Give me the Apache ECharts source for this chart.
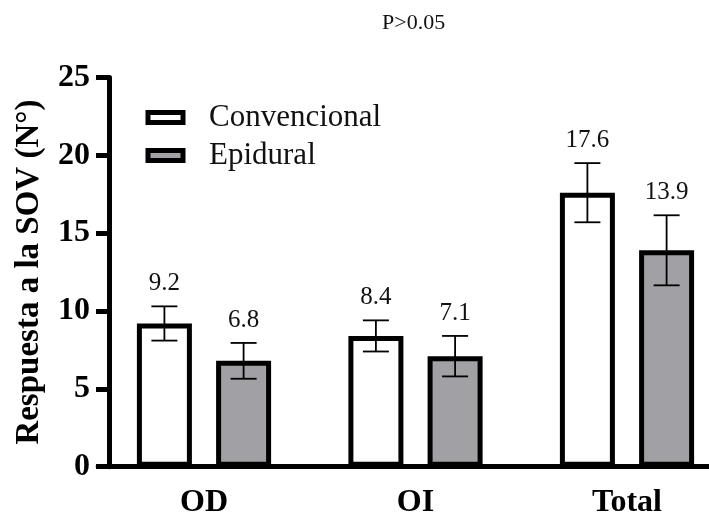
<!DOCTYPE html>
<html>
<head>
<meta charset="utf-8">
<script src="https://cdn.jsdelivr.net/npm/echarts@6/dist/echarts.min.js"></script>
<style>
  html, body { margin: 0; padding: 0; background: #fff; }
  #chart { width: 709px; height: 520px; }
</style>
</head>
<body>
<div id="chart"></div>
<script>
const categories = ['OD', 'OI', 'Total']
const convMean = [9.2, 8.4, 17.6]
const convSD = [1.1, 1.0, 1.9]
const epiMean = [6.8, 7.1, 13.9]
const epiSD = [1.15, 1.3, 2.25]
const yTicks = [0, 5, 10, 15, 20, 25]

const serif = "'Liberation Serif', 'Times New Roman', serif"
const barW = 55
const barGap = 0.44
// half distance between the two bar centres in a category
const halfShift = (barW + barW * barGap) / 2

let errData = []
categories.forEach((c, i) => {
  errData.push([i, convMean[i], convSD[i], -1])
  errData.push([i, epiMean[i], epiSD[i], 1])
})

function renderErr (params, api) {
  const idx = api.value(0)
  const mean = api.value(1)
  const sd = api.value(2)
  const side = api.value(3)
  const top = api.coord([idx, mean + sd])
  const bot = api.coord([idx, mean - sd])
  const x = top[0] + side * halfShift
  const cap = 13
  const st = {stroke: '#000', lineWidth: 1.8}
  return {
    type: 'group',
    children: [
      {type: 'line', shape: {x1: x, y1: top[1], x2: x, y2: bot[1]}, style: st},
      {type: 'line', shape: {x1: x - cap, y1: top[1], x2: x + cap, y2: top[1]}, style: st},
      {type: 'line', shape: {x1: x - cap, y1: bot[1], x2: x + cap, y2: bot[1]}, style: st},
      {
        type: 'text',
        style: {
          x: x, y: top[1] - 10, text: mean.toFixed(1),
          fill: '#111', font: '25px ' + serif,
          textAlign: 'center', textVerticalAlign: 'bottom'
        }
      }
    ]
  }
}

const myChart = echarts.init(document.getElementById('chart'))

const option = {
  animation: false,
  backgroundColor: '#fff',
  title: {
    text: 'P>0.05',
    left: 377, top: 7,
    textStyle: {fontFamily: serif, fontSize: 22, fontWeight: 'normal', color: '#111'}
  },
  legend: {
    orient: 'vertical',
    left: 145.5, top: 102,
    padding: 0,
    itemGap: 7,
    itemWidth: 35, itemHeight: 10,
    icon: 'rect',
    itemStyle: {borderColor: '#000', borderWidth: 5},
    textStyle: {fontFamily: serif, fontSize: 31, color: '#111', padding: [0, 0, 0, 21]},
    data: ['Convencional', 'Epidural']
  },
  grid: {left: 98.25, right: -23.75, top: 77.5, bottom: 53.3, outerBoundsMode: 'none'},
  xAxis: {
    type: 'category',
    data: categories,
    axisLine: {lineStyle: {color: '#000', width: 5}},
    axisTick: {alignWithLabel: true, length: 15, lineStyle: {color: '#000', width: 5}},
    axisLabel: {fontFamily: serif, fontSize: 32, fontWeight: 'bold', color: '#000', margin: 20},
    splitLine: {show: false}
  },
  yAxis: {
    type: 'value',
    min: 0, max: 25, interval: 5,
    offset: -10.75,
    name: 'Respuesta a la SOV (N°)',
    nameLocation: 'middle',
    nameGap: 63,
    nameTextStyle: {fontFamily: serif, fontSize: 33, fontWeight: 'bold', color: '#000'},
    axisLine: {show: true, lineStyle: {color: '#000', width: 5}},
    axisTick: {show: true, length: 13, lineStyle: {color: '#000', width: 5}},
    axisLabel: {
      fontFamily: serif, fontSize: 32, fontWeight: 'bold', color: '#000', margin: 19,
      formatter: v => yTicks.includes(v) ? String(v) : ''
    },
    splitLine: {show: false}
  },
  series: [
    {
      name: 'Convencional', type: 'bar',
      data: convMean, barWidth: barW, barGap: (barGap * 100) + '%',
      itemStyle: {color: '#ffffff', borderColor: '#000', borderWidth: 5}
    },
    {
      name: 'Epidural', type: 'bar',
      data: epiMean, barWidth: barW,
      itemStyle: {color: '#a0a0a5', borderColor: '#000', borderWidth: 5}
    },
    {
      name: 'err', type: 'custom',
      renderItem: renderErr,
      data: errData,
      z: 10,
      encode: {x: 0, y: [1, 2]}
    }
  ]
}
myChart.setOption(option)
</script>
</body>
</html>
